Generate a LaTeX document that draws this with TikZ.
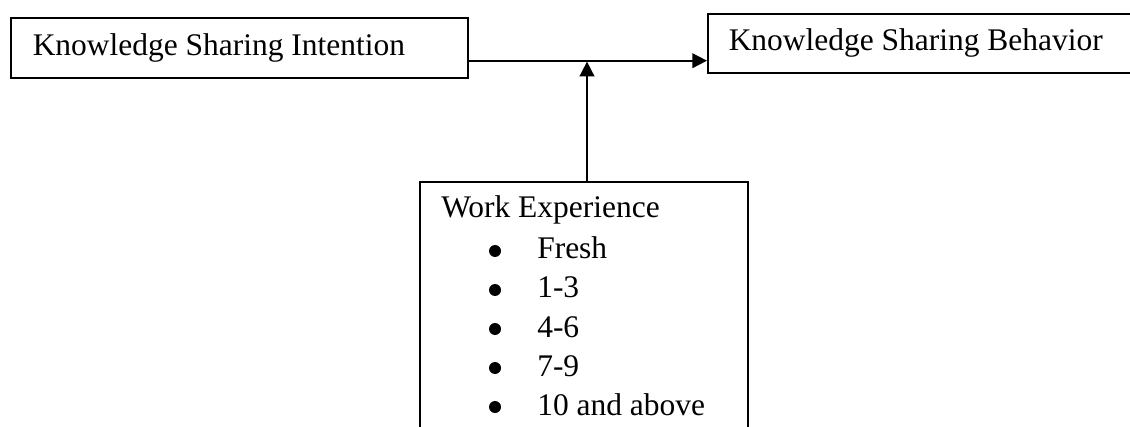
\documentclass[tikz,border=0pt]{standalone}
\usepackage{fontspec}
\setmainfont{Liberation Serif}
\usetikzlibrary{arrows.meta}
\def\px{0.75pt}
\tikzset{
  box/.style={draw, line width=1.15pt, anchor=north west, inner ysep=0pt, align=left},
  lbl/.style={inner sep=0pt, anchor=base west},
  bul/.style={circle, fill, inner sep=0pt, minimum size=12*\px},
  arr/.style={line width=1.3pt, -{Triangle[length=11pt, width=11pt]}},
}
\begin{document}
\begin{tikzpicture}[x=0.75pt, y=-0.75pt, font=\fontsize{23.6}{29.25}\selectfont]
\path[use as bounding box] (0,0) rectangle (1130,427);
\clip (0,0) rectangle (1130,427);
\node[box, minimum height=60*\px, text width=413*\px, inner xsep=22*\px] (i) at (10,17) {\spaceskip=0pt Knowledge Sharing Intention};
\node[box, minimum height=59*\px, text width=400*\px, inner xsep=21*\px] (b) at (707,13) {\spaceskip=0pt Knowledge Sharing Behavior};
\node[box, minimum height=260*\px, minimum width=328*\px] (w) at (419,181) {};
\coordinate (j) at (587,60.7);
\node[lbl] (t0) at (441,218) {Work Experience};
\node[bul] (b1) at (495,251) {};
\node[lbl] (t1) at (537,259) {Fresh};
\node[bul] (b2) at (495,290) {};
\node[lbl] (t2) at (537,298) {1-3};
\node[bul] (b3) at (495,329) {};
\node[lbl] (t3) at (537,337) {4-6};
\node[bul] (b4) at (495,368) {};
\node[lbl] (t4) at (537,376) {7-9};
\node[bul] (b5) at (495,407) {};
\node[lbl] (t5) at (537,415) {10 and above};
\draw[arr] (i.east |- j) -- (b.west |- j);
\draw[arr, shorten >=0.7pt] (w.north -| j) -- (j);
\end{tikzpicture}
\end{document}
